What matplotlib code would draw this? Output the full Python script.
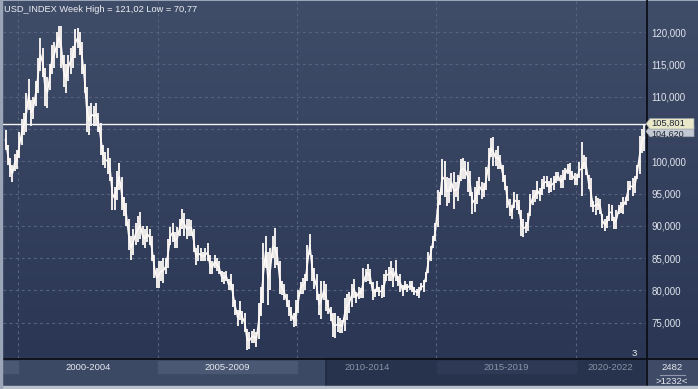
import numpy as np
import matplotlib
matplotlib.use("Agg")
import matplotlib.pyplot as plt
from matplotlib.patches import Rectangle, Polygon
from matplotlib.transforms import blended_transform_factory

# ---------------- data (monthly ranges) ----------------
first_year = 1999
first_month = 7   # July 1999 .. June 2022

month_low = [
    # 1999 Jul-Dec
    101.8, 99.5, 97.5, 96.8, 98.5, 98.8,
    # 2000
    100.5, 102.5, 104.0, 104.5, 108.0, 105.5, 106.5, 108.5, 110.5, 114.0, 113.0, 108.5,
    # 2001
    108.3, 111.0, 113.5, 114.5, 116.0, 117.5, 114.5, 111.5, 110.5, 112.5, 113.5, 114.5,
    # 2002
    116.0, 117.5, 116.5, 113.5, 110.5, 104.5, 104.0, 105.5, 105.5, 105.5, 104.5, 101.0,
    # 2003
    99.5, 99.0, 98.0, 97.0, 92.5, 92.5, 94.0, 95.5, 92.5, 91.5, 90.0, 86.3,
    # 2004
    84.7, 85.5, 87.0, 87.5, 88.0, 87.0, 86.5, 87.5, 87.0, 84.5, 82.0, 80.4,
    # 2005
    80.4, 81.5, 81.2, 82.5, 83.5, 87.0, 87.5, 86.5, 86.5, 88.5, 89.5, 88.5,
    # 2006
    88.0, 88.5, 88.5, 86.0, 84.0, 84.5, 84.5, 84.5, 84.5, 84.5, 82.5, 82.5,
    # 2007
    83.5, 83.0, 82.5, 81.3, 81.0, 81.5, 80.0, 80.0, 77.5, 76.2, 74.5, 75.5,
    # 2008
    74.8, 73.5, 70.8, 71.0, 71.8, 71.8, 71.3, 72.5, 76.0, 78.0, 83.5, 77.7,
    # 2009
    80.0, 85.0, 83.5, 84.0, 79.5, 79.3, 78.5, 77.5, 76.0, 75.2, 74.3, 74.5,
    # 2010
    76.5, 79.5, 79.5, 80.0, 81.5, 85.5, 81.5, 80.2, 78.5, 76.2, 75.6, 78.5,
    # 2011
    76.8, 76.3, 75.3, 72.8, 72.7, 73.5, 73.4, 73.4, 73.8, 75.5, 76.5, 77.5,
    # 2012
    78.8, 78.1, 78.7, 78.8, 78.8, 81.3, 81.5, 81.0, 78.6, 79.0, 79.8, 79.1,
    # 2013
    78.9, 79.0, 81.5, 81.5, 81.5, 80.5, 81.5, 80.7, 79.8, 79.1, 80.0, 79.8,
    # 2014
    80.0, 79.8, 79.3, 79.2, 78.9, 80.0, 79.8, 81.3, 82.7, 84.5, 86.5, 87.6,
    # 2015
    89.9, 93.2, 94.8, 94.4, 93.1, 93.5, 95.3, 92.6, 94.4, 93.8, 96.9, 97.2,
    # 2016
    97.2, 95.3, 94.6, 91.9, 92.1, 93.4, 94.8, 94.2, 94.5, 95.6, 96.9, 100.6,
    # 2017
    99.2, 99.2, 98.8, 98.8, 96.8, 95.6, 92.8, 91.6, 91.0, 92.8, 92.5, 91.9,
    # 2018
    88.4, 88.3, 88.9, 89.2, 91.6, 93.2, 93.7, 94.1, 93.8, 94.8, 95.7, 96.0,
    # 2019
    95.1, 95.2, 95.6, 96.7, 97.0, 95.8, 95.8, 97.1, 98.0, 97.1, 97.1, 96.4,
    # 2020
    96.3, 97.4, 94.6, 98.8, 97.8, 95.7, 92.9, 92.1, 91.7, 92.5, 91.8, 89.7,
    # 2021
    89.2, 89.7, 90.8, 90.8, 89.5, 89.5, 91.8, 92.0, 91.9, 93.3, 93.9, 95.5,
    # 2022 Jan-Jun
    94.6, 95.1, 97.3, 98.0, 101.3, 101.6,
]

month_high = [
    # 1999 Jul-Dec
    104.8, 102.5, 100.5, 99.5, 101.2, 101.8,
    # 2000
    104.5, 106.5, 107.5, 110.5, 112.8, 109.5, 110.0, 112.5, 116.0, 119.1, 117.5, 114.5,
    # 2001
    113.0, 115.0, 118.0, 118.5, 120.0, 121.0, 121.0, 116.5, 115.0, 116.5, 117.5, 117.8,
    # 2002
    120.5, 120.6, 120.0, 118.5, 115.0, 111.5, 108.5, 109.0, 108.5, 109.0, 107.5, 106.0,
    # 2003
    102.5, 101.5, 102.0, 100.5, 97.5, 96.0, 98.5, 99.7, 97.5, 94.5, 93.5, 91.0,
    # 2004
    88.5, 89.5, 90.5, 91.5, 92.2, 90.0, 89.5, 90.0, 89.5, 88.5, 85.5, 83.5,
    # 2005
    84.5, 84.5, 85.0, 85.0, 88.0, 89.8, 90.5, 89.0, 89.8, 91.0, 92.6, 92.0,
    # 2006
    91.0, 91.0, 90.9, 89.5, 86.5, 87.0, 86.5, 86.0, 86.5, 87.3, 85.5, 84.5,
    # 2007
    85.5, 85.0, 84.5, 83.0, 82.8, 83.0, 81.8, 82.5, 81.0, 78.5, 77.0, 78.3,
    # 2008
    76.8, 76.5, 74.0, 73.5, 73.8, 74.0, 73.5, 78.0, 80.5, 87.3, 88.5, 86.0,
    # 2009
    86.5, 88.5, 89.7, 86.8, 84.5, 81.5, 81.0, 79.5, 78.5, 77.5, 76.5, 78.5,
    # 2010
    80.0, 81.3, 82.0, 82.5, 87.0, 88.7, 85.5, 83.5, 82.5, 79.5, 81.5, 81.4,
    # 2011
    81.0, 78.5, 77.5, 76.5, 76.5, 76.0, 75.8, 75.5, 78.9, 79.5, 79.8, 81.0,
    # 2012
    81.8, 79.8, 80.6, 80.4, 83.5, 83.3, 84.1, 83.3, 81.3, 80.3, 81.4, 80.6,
    # 2013
    80.9, 82.5, 83.2, 83.6, 84.5, 83.5, 84.7, 82.3, 82.5, 80.8, 81.5, 81.0,
    # 2014
    81.5, 81.5, 80.6, 80.3, 80.5, 81.1, 81.6, 82.9, 86.0, 86.9, 88.4, 90.4,
    # 2015
    95.5, 95.3, 100.4, 100.0, 97.6, 97.4, 98.2, 98.3, 96.8, 97.8, 100.4, 100.5,
    # 2016
    100.0, 99.9, 98.5, 95.2, 96.0, 96.9, 97.5, 96.8, 96.6, 99.1, 102.1, 103.6,
    # 2017
    103.8, 101.8, 102.3, 101.0, 99.5, 97.8, 96.1, 94.1, 93.3, 95.2, 95.0, 94.0,
    # 2018
    92.4, 91.0, 90.6, 92.0, 95.0, 95.5, 95.6, 96.9, 95.8, 97.2, 97.7, 97.7,
    # 2019
    96.9, 97.4, 97.7, 98.3, 98.4, 97.8, 98.7, 99.0, 99.6, 99.7, 98.5, 98.2,
    # 2020
    98.1, 99.9, 103.0, 100.9, 100.6, 97.8, 97.4, 93.9, 94.7, 94.3, 94.2, 91.9,
    # 2021
    91.1, 91.6, 93.4, 93.3, 91.4, 92.5, 93.2, 93.7, 94.5, 94.5, 96.9, 96.9,
    # 2022 Jan-Jun
    97.4, 97.7, 99.4, 103.9, 105.0, 105.8,
]

y_ticks = [75, 80, 85, 90, 95, 100, 105, 110, 115, 120]
y_tick_labels = ["75,000", "80,000", "85,000", "90,000", "95,000",
                 "100,000", "105,000", "110,000", "115,000", "120,000"]
grid_years = [2000, 2005, 2010, 2015, 2020]
period_labels = ["2000-2004", "2005-2009", "2010-2014", "2015-2019", "2020-2022"]
period_starts = [2000, 2005, 2010, 2015, 2020]
title_text = "USD_INDEX Week High = 121,02 Low = 70,77"
last_high = 105.801
last_close = 104.620
last_high_label = "105,801"
last_close_label = "104,620"
bars_total = "2482"
bars_visible = ">1232<"
corner_label = "3"

# ---------------- layout ----------------
W, H = 698, 389
fig = plt.figure(figsize=(W / 100, H / 100), dpi=100)
fig.patch.set_facecolor("#9aa5b8")

def rect(x0, y0, x1, y1):
    return [x0 / W, 1 - y1 / H, (x1 - x0) / W, (y1 - y0) / H]

bg = fig.add_axes([0, 0, 1, 1], zorder=0)
bg.set_xlim(0, W)
bg.set_ylim(H, 0)
bg.axis("off")

# gradient panels
grad = np.linspace(0, 1, 256).reshape(-1, 1)
top_c = np.array([0x40, 0x4d, 0x69]) / 255
bot_c = np.array([0x2a, 0x36, 0x53]) / 255
img = top_c[None, None, :] * (1 - grad[:, :, None]) + bot_c[None, None, :] * grad[:, :, None]
bg.imshow(img, extent=(2, 698, 358, 1), aspect="auto", zorder=0, interpolation="bilinear")

# bottom bar
bg.add_patch(Rectangle((2, 358), 324, 28, color="#3c4965", zorder=1))
bg.add_patch(Rectangle((326, 358), 320, 28, color="#27324c", zorder=1))
bg.add_patch(Rectangle((646, 358), 52, 28, color="#3e4a66", zorder=1))
bg.add_patch(Rectangle((3, 361), 15, 12, color="#4b5874", zorder=2))
bg.add_patch(Rectangle((158, 361), 139, 12, color="#4b5874", zorder=2))
bg.add_patch(Rectangle((437, 361), 139, 12, color="#2e3a55", zorder=2))
bg.plot([325.5, 325.5], [359, 386], color="#1f2940", lw=1.2, zorder=3)
# frame lines
bg.plot([0, W], [358.5, 358.5], color="#0b0f18", lw=1.3, zorder=5)
bg.plot([646.5, 646.5], [0, 386], color="#0b0f18", lw=1.3, zorder=5)
bg.add_patch(Rectangle((0, 386), W, 3, color="#b8c0cc", zorder=6))
bg.add_patch(Rectangle((0, 0), 2, H, color="#9aa5b8", zorder=6))

# period labels
for i, lab in enumerate(period_labels):
    x0 = 18.3 + (period_starts[i] - 2000) * 27.87
    x1 = min(x0 + 139.35, 646)
    col = "#e6e9ef" if i < 2 else "#8a93a6"
    bg.text((x0 + x1) / 2, 367.5, lab, color=col, fontsize=6.8,
            family="Liberation Sans", ha="center", va="center", zorder=4)

bg.text(672, 367.5, bars_total, color="#e6e9ef", fontsize=6.8,
        family="Liberation Sans", ha="center", va="center", zorder=7)
bg.plot([660, 685], [374.5, 374.5], color="#8f98aa", lw=0.8, zorder=7)
bg.text(672, 381, bars_visible, color="#e6e9ef", fontsize=6.8,
        family="Liberation Sans", ha="center", va="center", zorder=7)
bg.text(634, 353, corner_label, color="#e6e9ef", fontsize=6.8,
        family="Liberation Sans", ha="center", va="center", zorder=7)

# ---------------- main chart ----------------
ax = fig.add_axes(rect(3, 1, 646, 358), zorder=2)
ax.patch.set_alpha(0)
n = len(month_low)
t = np.array([first_year + (first_month - 1) / 12 + (i + 0.5) / 12 for i in range(n)])
lo = np.array(month_low)
hi = np.array(month_high)
line_col = "#fffaf7"
ax.vlines(t, lo, hi, color=line_col, lw=1.3, zorder=3)
ax.plot(t, (lo + hi) / 2, color=line_col, lw=1.15, zorder=3)

ax.set_xlim(1999.451, 2022.52)
ax.set_ylim(69.55, 124.81)
for yv in y_ticks:
    ax.axhline(yv, color="#566480", lw=0.8, ls=(0, (2.5, 3)), zorder=1)
for xv in grid_years:
    ax.axvline(xv, color="#566480", lw=0.8, ls=(0, (2.5, 3)), zorder=1)
ax.axhline(last_high, color="#f4f4f4", lw=1.0, zorder=4)

ax.set_xticks([])
ax.yaxis.tick_right()
ax.set_yticks(y_ticks)
ax.set_yticklabels(y_tick_labels)
ax.tick_params(axis="y", length=0, pad=4, labelsize=7.0, labelcolor="#dfe4ec")
for lab in ax.get_yticklabels():
    lab.set_family("Liberation Sans")
for sp in ax.spines.values():
    sp.set_visible(False)

ax.text(0.002, 0.99, title_text, transform=ax.transAxes, color="#eceef2",
        fontsize=6.7, family="Liberation Sans", ha="left", va="top", zorder=6)

# price tags on the right scale
tr = blended_transform_factory(bg.transData, ax.transData)
def tag(v, label, face, z, dy, fs):
    h = 0.82
    poly = Polygon([(646, v), (650, v + h), (694, v + h), (694, v - h), (650, v - h)],
                   closed=True, transform=tr, facecolor=face, edgecolor="#9aa0ab",
                   lw=0.5, zorder=z, clip_on=False)
    fig.add_artist(poly)
    txt = fig.text(0, 0, label, transform=tr, color="#1c2435", fontsize=fs,
                   family="Liberation Sans", ha="left", va="center", zorder=z + 0.5)
    txt.set_position((651, v + dy))

tag(last_close, last_close_label, "#c3c9d3", 10, -0.45, 6.5)
tag(last_high, last_high_label, "#e9e8c8", 11, 0.05, 6.7)

fig.savefig("out.png", dpi=100, facecolor=fig.get_facecolor())
